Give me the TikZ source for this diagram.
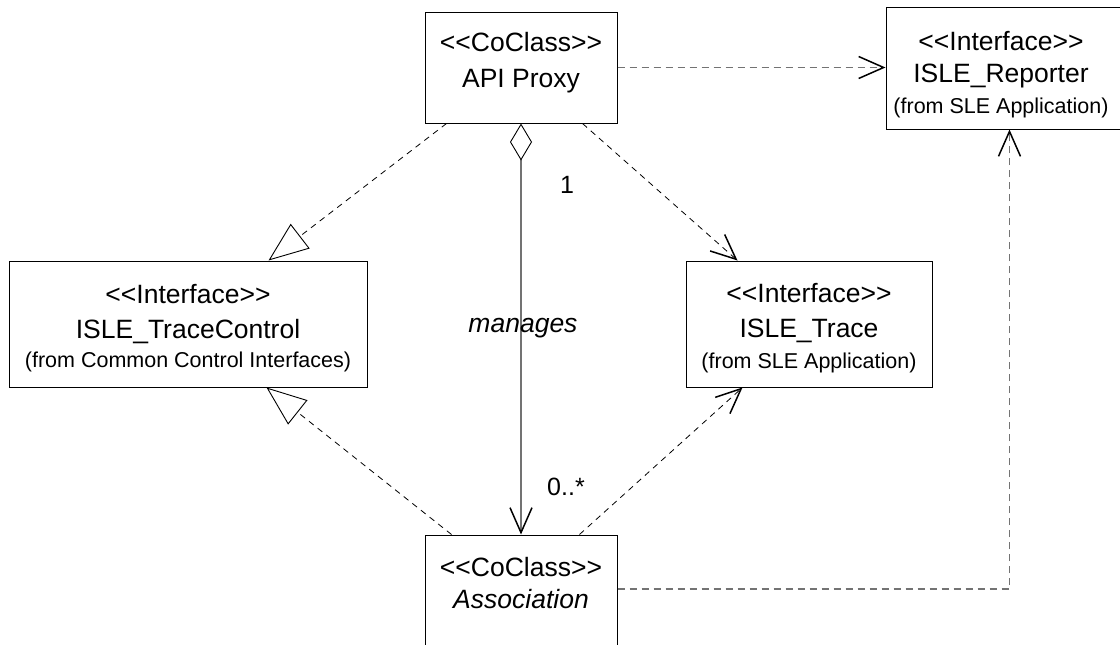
\documentclass[tikz,border=0pt]{standalone}
\usepackage{fontspec}
\setmainfont{Liberation Sans}
\usetikzlibrary{arrows.meta,calc}
\newcommand\stL{<\kern0pt<}
\newcommand\stR{>\kern0pt>}
\tikzset{
  openhead/.tip={Straight Barb[length=25pt,width=22pt,line width=1.5pt,color=black]},
  realtri/.tip={Triangle[open,length=40pt,width=31pt,line width=0.9pt,color=black]},
  aggdia/.tip={Diamond[open,length=37pt,width=22pt,line width=0.9pt,color=black]},
}
\begin{document}
\begin{tikzpicture}[x=1pt,y=-1pt,
  box/.style={draw=black,line width=1pt,inner sep=0pt,rectangle},
  big/.style={font=\fontsize{26.5}{30}\selectfont,anchor=base,inner sep=0pt},
  small/.style={font=\fontsize{21.5}{25}\selectfont,anchor=base,inner sep=0pt},
  mult/.style={font=\fontsize{25}{28}\selectfont,anchor=base,inner sep=0pt},
  gdash/.style={draw=black!55,line width=1.3pt,dash pattern=on 7pt off 5pt},
  kdash/.style={draw=black,line width=0.8pt,dash pattern=on 6pt off 5pt},
  gline/.style={draw=black!55,line width=1.3pt},
]
\useasboundingbox (0,0) rectangle (1120,645);
\fill[white] (0,0) rectangle (1120,645);

% boxes
\node[box,minimum width=192pt,minimum height=111pt] (api) at (521,67.5) {};
\node[box,minimum width=240pt,minimum height=122pt] (rep) at (1006,68) {};
\node[box,minimum width=358pt,minimum height=126pt] (tc) at (188,324) {};
\node[box,minimum width=246pt,minimum height=126pt] (tr) at (809,324) {};
\node[box,minimum width=192pt,minimum height=125pt] (as) at (521,597.5) {};

% texts
\node[big] (apiA) at (521,51) {\stL CoClass\stR};
\node[big] (apiB) at (521,87) {API Proxy};
\node[big] (repA) at (1001,50) {\stL Interface\stR};
\node[big] (repB) at (1001,82) {ISLE\_Reporter};
\node[small] (repC) at (1001,113) {(from SLE Application)};
\node[big] (tcA) at (188,303) {\stL Interface\stR};
\node[big] (tcB) at (188,338) {ISLE\_TraceControl};
\node[small] (tcC) at (188,367) {(from Common Control Interfaces)};
\node[big] (trA) at (809,302) {\stL Interface\stR};
\node[big] (trB) at (809,337) {ISLE\_Trace};
\node[small] (trC) at (809,368) {(from SLE Application)};
\node[big] (asA) at (521,576) {\stL CoClass\stR};
\node[big] (asB) at (521,608) {\itshape Association};

% connectors
\draw[gdash,-{openhead}] (api.east) -- (api.east -| rep.west);
\draw[kdash,-{realtri}] ([xshift=22pt]api.south west) -- ([xshift=260pt]tc.north west);
\draw[kdash,-{openhead}] ([xshift=158pt]api.south west) -- ([xshift=52pt]tr.north west);
\draw[kdash,-{realtri}] ([xshift=27pt]as.north west) -- ([xshift=258pt]tc.south west);
\draw[kdash,-{openhead}] ([xshift=155pt]as.north west) -- ([xshift=57pt]tr.south west);
\draw[gdash,-{openhead}] ([yshift=8.5pt]as.east) -| ([xshift=124pt]rep.south west);
\draw[gline,{aggdia}-{openhead}] (api.south) -- (as.north);

% labels
\node[mult] (m1) at (567,193) {1};
\node[mult] (m2) at (566,495) {0..*};
\node[big] (mg) at (523,332) {\itshape manages};
\end{tikzpicture}
\end{document}
